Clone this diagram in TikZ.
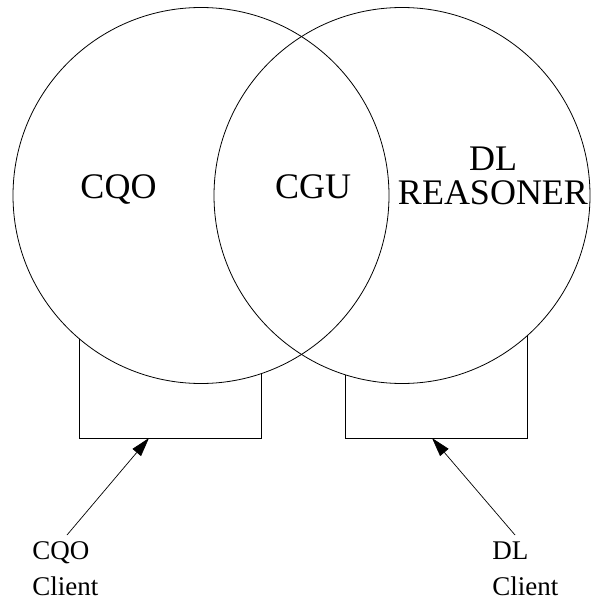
\documentclass[tikz,border=0pt]{standalone}
\usepackage{fontspec}
\setmainfont{Liberation Serif}
\usetikzlibrary{arrows.meta}
\begin{document}
\begin{tikzpicture}[x=1pt,y=-1pt,
  line width=0.8pt,
  ring/.style={circle,draw,minimum size=376pt,inner sep=0pt},
  bigtext/.style={font=\fontsize{36}{34}\selectfont,align=center,inner sep=0pt},
  smalltext/.style={font=\fontsize{27}{36}\selectfont,align=left,inner sep=0pt,anchor=north west},
  box/.style={draw,line width=0.9pt},
  feed/.style={draw,line width=0.7pt,-{Triangle[length=19pt,width=11pt]}}]
\useasboundingbox (0,0) rectangle (590,601);
% circles
\node[ring] (L) at (201,195.5) {};
\node[ring] (R) at (402,195.5) {};
% texts in circles
\node[bigtext,anchor=base] (cqo) at (118.5,199) {CQO};
\node[bigtext,anchor=base] (cgu) at (313,199) {CGU};
\node[bigtext,anchor=north] (dl) at (493,147) {DL\\REASONER};
% boxes under the circles
\coordinate (l1) at (79,338.5);
\coordinate (l2) at (79,438);
\coordinate (l3) at (261,438);
\coordinate (l4) at (261,373.7);
\coordinate (r1) at (345,374.6);
\coordinate (r2) at (345,438);
\coordinate (r3) at (527,438);
\coordinate (r4) at (527,336);
\draw[box] (l1) -- (l2) -- (l3) -- (l4);
\draw[box] (r1) -- (r2) -- (r3) -- (r4);
% clients
\node[smalltext] (cqoc) at (32,541) {CQO\\Client};
\node[smalltext] (dlc) at (492,541) {DL\\Client};
\coordinate (a1) at (67,535);
\coordinate (t1) at (149,438);
\coordinate (a2) at (515,535);
\coordinate (t2) at (432,438);
\draw[feed] (a1) -- (t1);
\draw[feed] (a2) -- (t2);
\end{tikzpicture}
\end{document}
